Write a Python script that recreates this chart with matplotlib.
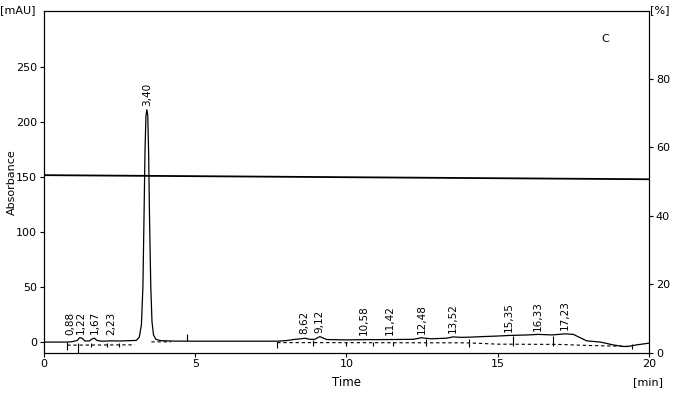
import numpy as np
import matplotlib
matplotlib.use('Agg')
import matplotlib.pyplot as plt

plt.rcParams['font.family'] = 'DejaVu Sans'
plt.rcParams['font.size'] = 8

# chromatogram signal (time in min, absorbance in mAU)
time = [0.0, 0.8, 0.95, 1.1, 1.18, 1.26, 1.35, 1.5, 1.6, 1.67, 1.75, 1.9, 2.23, 2.5,
        3.05, 3.15, 3.22, 3.27, 3.31, 3.34, 3.37, 3.40, 3.43, 3.46, 3.49, 3.53, 3.57,
        3.62, 3.7, 3.85, 4.3, 5.0, 7.7, 8.0, 8.3, 8.5, 8.62, 8.8, 8.95, 9.05, 9.12,
        9.2, 9.35, 10.0, 10.58, 11.42, 12.2, 12.4, 12.48, 12.6, 12.8, 13.3, 13.52,
        13.8, 14.1, 14.5, 15.0, 15.35, 16.0, 16.33, 16.8, 17.23, 17.5, 17.94, 18.4,
        18.8, 19.15, 19.3, 19.6, 20.0]
absorbance = [-0.5, -0.5, 0.0, 1.0, 3.5, 3.0, 0.5, 0.5, 2.5, 3.0, 1.0, 0.3, 0.6, 0.5,
              1.0, 4.0, 15, 50, 120, 175, 205, 211, 206, 170, 110, 50, 18,
              6, 2, 0.8, 0.4, 0.3, 0.3, 0.8, 2.0, 2.5, 3.0, 2.0, 2.0, 3.5, 4.5,
              3.5, 1.8, 1.5, 1.7, 1.8, 2.0, 3.0, 3.5, 3.0, 2.5, 3.0, 4.2,
              3.8, 4.0, 4.5, 5.0, 5.5, 6.0, 6.5, 6.0, 7.0, 6.5, 0.6, -0.5,
              -3.0, -4.5, -4.5, -3.0, -1.5]

# baseline (dashed), nan = gap
base_time = [0.77, 3.0, np.nan, 3.55, 4.2, np.nan, 7.71, 8.9, 14.0, 15.0, 17.0, 18.0, 19.43]
base_abs = [-3.3, -3.0, np.nan, -0.3, -0.3, np.nan, -1.0, -1.0, -1.2, -2.4, -2.6, -3.6, -4.5]

# gradient [%]
grad_time = [0.0, 20.0]
grad_pct = [51.9, 50.7]

# peak retention times
peaks = [0.88, 1.22, 1.67, 2.23, 3.40, 8.62, 9.12, 10.58, 11.42, 12.48, 13.52,
         15.35, 16.33, 17.23]

# integration marks
mark_time = [0.77, 1.13, 1.54, 2.07, 2.48, 4.72, 7.71, 8.9, 9.98, 10.89, 11.55,
             12.62, 14.06, 15.49, 16.82, 19.43]
mark_lo = [-7.5, -10, -5, -5, -5, 0.5, -6, -4, -4, -4, -4, -4, -5, -4, -4, -7]
mark_hi = [0, -1.5, -1, -1, -1, 7, 0, 1, 0, 0, 0, 2, 2, 5, 5, -2]

fig = plt.figure(figsize=(6.79, 3.96), dpi=100)
ax = fig.add_axes([0.0648, 0.1098, 0.891, 0.863])
ax.plot(time, absorbance, color='black', lw=0.9)
ax.plot(base_time, base_abs, color='black', lw=0.8, ls=(0, (3, 2.5)))
ax.vlines(mark_time, mark_lo, mark_hi, color='black', lw=0.8)

sig_at_peak = np.interp(peaks, time, absorbance)
for p, s in zip(peaks, sig_at_peak):
    ax.text(p, max(s, 2) + 3.5, f'{p:.2f}'.replace('.', ','), rotation=90,
            ha='center', va='bottom', fontsize=7.5)

ax.set_xlim(0, 20)
ax.set_ylim(-10, 301)
ax.set_xticks([0, 5, 10, 15, 20])
ax.set_yticks([0, 50, 100, 150, 200, 250])
ax.tick_params(length=3, width=0.8, pad=2)
ax.set_xlabel('Time', fontsize=8.5, labelpad=5)
ax.set_ylabel('Absorbance', fontsize=8)
ax.yaxis.set_label_coords(-0.045, 0.5)
ax.text(18.55, 275, 'C', ha='center', va='center', fontsize=8)

ax2 = ax.twinx()
ax2.plot(grad_time, grad_pct, color='black', lw=1.3)
ax2.set_ylim(0, 100)
ax2.set_yticks([0, 20, 40, 60, 80])
ax2.tick_params(length=3, width=0.8, pad=2)

fig.text(0.0, 0.975, '[mAU]', fontsize=8, va='center', ha='left')
fig.text(0.958, 0.975, '[%]', fontsize=8, va='center', ha='left')
fig.text(0.955, 0.035, '[min]', fontsize=8, va='center', ha='center')

fig.savefig('out.png', dpi=100)
